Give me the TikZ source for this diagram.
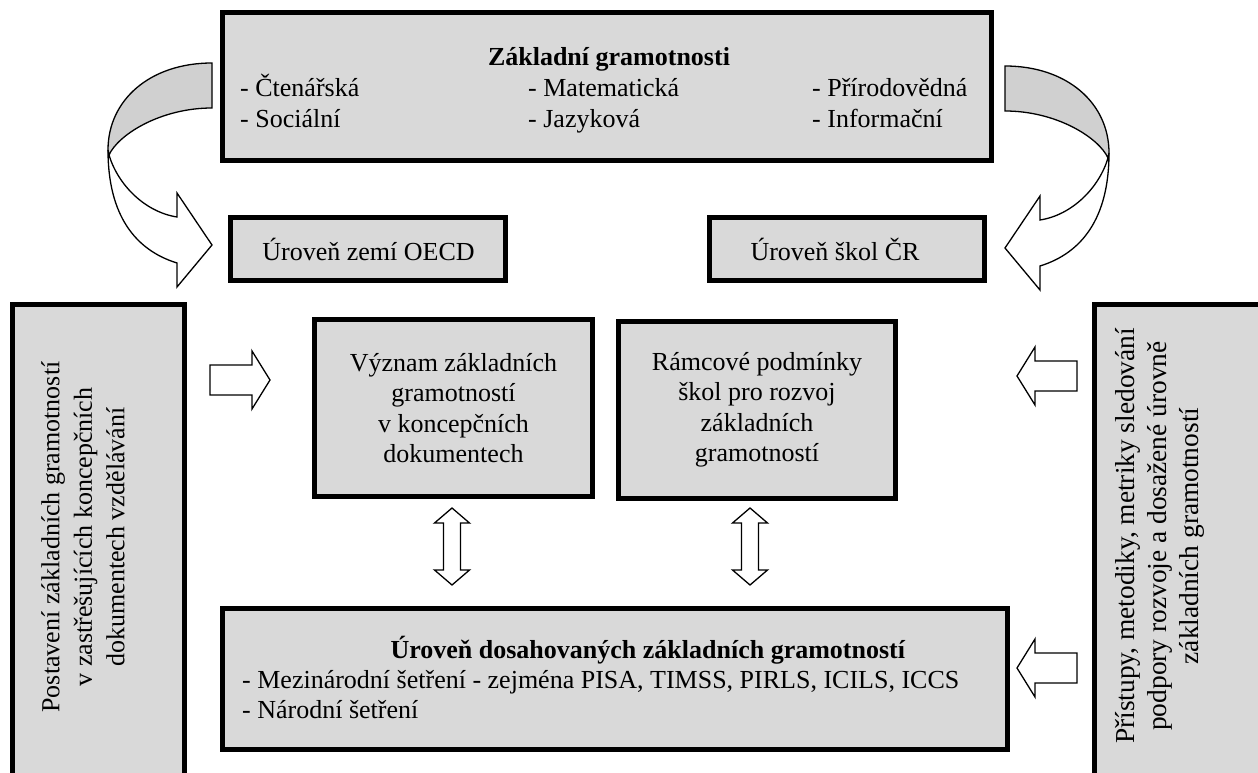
\documentclass[tikz,border=0pt]{standalone}
\usepackage{fontspec}
\setmainfont{Liberation Serif}
\definecolor{boxgray}{HTML}{D9D9D9}
\definecolor{arrgray}{HTML}{D0D0D0}
\newcommand\cvarrow{%
  \draw[blk, fill=arrgray] (212,63) .. controls (150,63) and (108,100) .. (108,150)
     -- (109,155) .. controls (118,135) and (160,108) .. (212,108) -- cycle;
  \draw[blk] (108,150) .. controls (108,215) and (135,250) .. (177,263)
     -- (177,287) -- (212,245) -- (177,193) -- (177,217)
     .. controls (145,212) and (118,185) .. (109,155) -- cycle;
}
\begin{document}
\begin{tikzpicture}[x=1pt,y=-1pt,
  box/.style={draw=black, line width=5pt, fill=boxgray, inner sep=0pt},
  txt/.style={font=\fontsize{26}{30.5}\selectfont, inner sep=0pt},
  rtxt/.style={font=\fontsize{26}{32.5}\selectfont, inner sep=0pt, rotate=90, align=center},
  blk/.style={draw=black, line width=1.3pt, fill=white, line join=miter},
]
\useasboundingbox (0,0) rectangle (1258,773);
\clip (0,0) rectangle (1258,773);

% boxes
\node[box, minimum width=769, minimum height=148] (top) at (607,86.5) {};
\node[box, minimum width=275, minimum height=63] (oecd) at (368,249) {};
\node[box, minimum width=275, minimum height=63] (cr) at (847,249) {};
\node[box, minimum width=278, minimum height=177, txt, align=center] (vyz) at (453.5,408)
  {Význam základních\\gramotností\\v koncepčních\\dokumentech};
\node[box, minimum width=277, minimum height=177, txt, align=center] (ram) at (757,410)
  {Rámcové podmínky\\škol pro rozvoj\\základních\\gramotností};
\node[box, minimum width=785, minimum height=141] (bot) at (615,679) {};
\node[box, minimum width=172, minimum height=493] (lbox) at (98.5,551) {};
\node[box, minimum width=173, minimum height=493] (rbox) at (1181,551) {};

% texts
\node[txt, anchor=base] (tt) at (609,66) {\textbf{Základní gramotnosti}};
\node[txt, anchor=base west] (t11) at (240,97) {- Čtenářská};
\node[txt, anchor=base west] (t21) at (240,128) {- Sociální};
\node[txt, anchor=base west] (t12) at (528,97) {- Matematická};
\node[txt, anchor=base west] (t22) at (528,128) {- Jazyková};
\node[txt, anchor=base west] (t13) at (812,97) {- Přírodovědná};
\node[txt, anchor=base west] (t23) at (812,128) {- Informační};

\node[txt] (oecdt) at (368.5,249) {Úroveň zemí OECD};
\node[txt] (crt) at (835,249) {Úroveň škol ČR};

\node[txt, anchor=base] (bt) at (648,658) {\textbf{Úroveň dosahovaných základních gramotností}};
\node[txt, anchor=base west] (b1) at (242,688) {- Mezinárodní šetření - zejména PISA, TIMSS, PIRLS, ICILS, ICCS};
\node[txt, anchor=base west] (b2) at (242,718) {- Národní šetření};

\node[rtxt] (lt) at (83,537) {Postavení základních gramotností\\v zastřešujících koncepčních\\dokumentech vzdělávání};
\node[rtxt, font=\fontsize{27.4}{32}\selectfont] (rt) at (1160,536) {Přístupy, metodiky, metriky sledování\\podpory rozvoje a dosažené úrovně\\základních gramotností};

% block arrows
\draw[blk] (210,365) -- (252,365) -- (252,351) -- (270,380) -- (252,409) -- (252,395) -- (210,395) -- cycle;
\draw[blk] (1077,361) -- (1035,361) -- (1035,347) -- (1017,376) -- (1035,405) -- (1035,391) -- (1077,391) -- cycle;
\draw[blk] (1077,653) -- (1035,653) -- (1035,639) -- (1017,668) -- (1035,697) -- (1035,683) -- (1077,683) -- cycle;

% double arrows
\foreach \cx in {452,750}{
  \draw[blk] (\cx,508) -- ++(17.5,15) -- ++(-9,0) -- ++(0,47) -- ++(9,0) -- (\cx,585)
    -- ++(-17.5,-15) -- ++(9,0) -- ++(0,-47) -- ++(-9,0) -- cycle;
}

% curved arrows
\begin{scope}
  \cvarrow
\end{scope}
\begin{scope}[shift={(1217,3)}, xscale=-1]
  \cvarrow
\end{scope}
\end{tikzpicture}
\end{document}
